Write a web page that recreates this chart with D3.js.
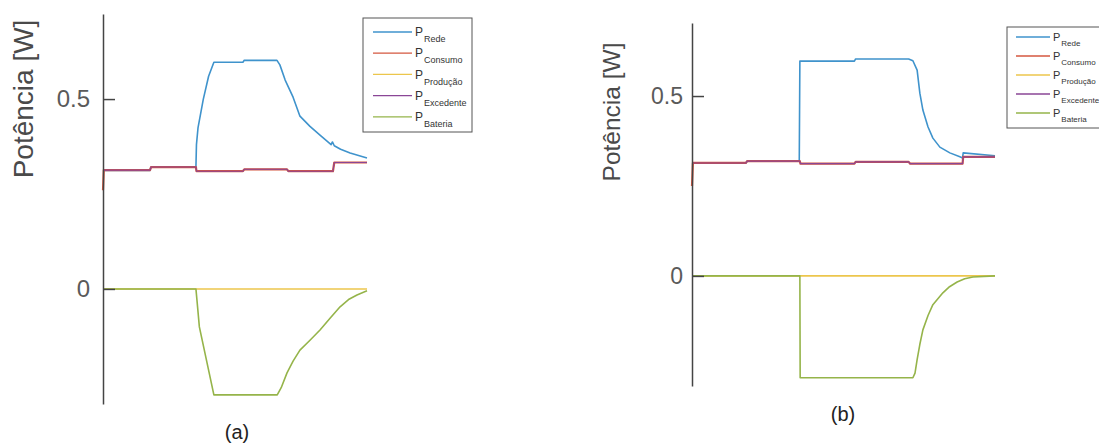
<!DOCTYPE html>
<html>
<head>
<meta charset="utf-8">
<script src="https://cdn.jsdelivr.net/npm/d3@7"></script>
<style>
  body { margin: 0; background: #fff; }
  text { font-family: "Liberation Sans", Arial, sans-serif; }
</style>
</head>
<body>
<div class="chart"></div>
<script>
// series names and colours (legend order = draw order)
var names = ["Rede", "Consumo", "Produção", "Excedente", "Bateria"];
var colors = ["#3f93cc", "#d4573f", "#ecc64c", "#8a4696", "#95b44a"];
var widths = [1.6, 2.2, 1.6, 1.1, 1.6];
var yTicks = [0, 0.5];
var tickLabels = ["0", "0.5"];

// (a) values, [t, P]
var redeA = [[0,0.312],[17.8,0.312],[18.2,0.321],[35.2,0.321],[35.4,0.38],[36,0.425],[38,0.5],[40,0.56],[42,0.597],
  [53,0.597],[53.5,0.602],[65.9,0.602],[67,0.59],[69,0.55],[72,0.505],[74.6,0.455],[78.4,0.428],[82.2,0.405],
  [86.4,0.38],[86.9,0.387],[87.6,0.377],[90,0.368],[93.6,0.358],[100,0.345]];
var consumoA = [[0,0.26],[0.3,0.313],[17.8,0.313],[18.2,0.321],[35.2,0.321],[35.4,0.31],[53,0.31],[53.5,0.315],
  [69.7,0.315],[70.2,0.31],[87.1,0.31],[87.6,0.333],[100,0.333]];
var producaoA = [[0,0],[100,0]];
var excedenteA = [[0,0.313],[17.8,0.313],[18.2,0.321],[35.2,0.321],[35.4,0.31],[53,0.31],[53.5,0.315],
  [69.7,0.315],[70.2,0.31],[87.1,0.31],[87.6,0.333],[100,0.333]];
var bateriaA = [[0,0],[35.2,0],[35.6,-0.03],[36.5,-0.1],[42,-0.279],[66,-0.279],[67.5,-0.26],[69.7,-0.221],
  [72,-0.19],[74.6,-0.161],[78.4,-0.135],[82.2,-0.108],[86,-0.077],[89.8,-0.047],[93,-0.028],[96.2,-0.016],[100,-0.005]];

// (b)
var redeB = [[0,0.314],[17.8,0.314],[18.2,0.319],[35.4,0.319],[35.6,0.597],[53.6,0.597],[54,0.603],[71.5,0.603],
  [72.9,0.598],[74.3,0.572],[75.2,0.508],[76.2,0.461],[77.9,0.414],[79.5,0.383],[81.8,0.358],[85.1,0.342],
  [88.4,0.331],[89.3,0.328],[89.5,0.342],[100,0.334]];
var consumoB = [[0,0.25],[0.3,0.314],[17.8,0.314],[18.2,0.319],[35.6,0.319],[35.8,0.312],[53.6,0.312],[54,0.317],
  [71.5,0.317],[72,0.312],[89.3,0.312],[89.5,0.331],[100,0.331]];
var producaoB = [[0,0],[100,0]];
var excedenteB = [[0,0.314],[17.8,0.314],[18.2,0.319],[35.6,0.319],[35.8,0.312],[53.6,0.312],[54,0.317],
  [71.5,0.317],[72,0.312],[89.3,0.312],[89.5,0.331],[100,0.331]];
var bateriaB = [[0,0],[35.6,0],[35.7,-0.283],[72.9,-0.283],[73.6,-0.27],[74.3,-0.233],[75.2,-0.19],[76.2,-0.15],
  [77.9,-0.11],[79.5,-0.08],[82.8,-0.047],[85,-0.03],[87.5,-0.017],[90,-0.008],[92.7,-0.003],[100,0]];

var panels = [
  { series: [redeA, consumoA, producaoA, excedenteA, bateriaA], caption: "(a)",
    left: 103, right: 367, top: 14, bottom: 404, yMin: -0.303, yMax: 0.724,
    pad: 13, tickFont: 24, labelFont: 28, labelX: 33, labelY: 99, capX: 237, capY: 439,
    legend: { x: 363, y: 18, w: 109, h: 114, row0: 32, rowH: 21.2, l0: 373, l1: 412, pFont: 12, subFont: 9 } },
  { series: [redeB, consumoB, producaoB, excedenteB, bateriaB], caption: "(b)",
    left: 692, right: 995, top: 23, bottom: 386, yMin: -0.306, yMax: 0.703,
    pad: 9, tickFont: 23, labelFont: 24.5, labelX: 620, labelY: 112, capX: 843, capY: 421,
    legend: { x: 1007, y: 27, w: 110, h: 101, row0: 37, rowH: 19, l0: 1016, l1: 1050, pFont: 11, subFont: 8 } }
];

var svg = d3.select(".chart").append("svg")
  .attr("width", 1099)
  .attr("height", 445);

panels.forEach(function(p) {
  var x = d3.scaleLinear().domain([0, 100]).range([p.left, p.right]);
  var y = d3.scaleLinear().domain([p.yMin, p.yMax]).range([p.bottom, p.top]);

  var line = d3.line()
    .x(function(d) { return x(d[0]); })
    .y(function(d) { return y(d[1]); });

  var g = svg.append("g");

  // lines first, axis on top like MATLAB
  p.series.forEach(function(s, i) {
    g.append("path")
      .attr("d", line(s))
      .style("fill", "none")
      .style("stroke", colors[i])
      .style("stroke-width", widths[i])
      .style("stroke-linejoin", "round");
  });

  var yAxis = d3.axisLeft(y)
    .tickValues(yTicks)
    .tickFormat(function(d, i) { return tickLabels[i]; })
    .tickSizeInner(-12)
    .tickSizeOuter(0)
    .tickPadding(p.pad);

  var gY = g.append("g")
    .attr("transform", "translate(" + p.left + ",0)")
    .call(yAxis);
  gY.select(".domain").attr("stroke", "#444").attr("stroke-width", 1.5);
  gY.selectAll(".tick line").attr("stroke", "#444").attr("stroke-width", 1.5);
  gY.selectAll(".tick text")
    .attr("fill", "#5a5a5a")
    .style("font-size", p.tickFont + "px")
    .style("font-family", "'Liberation Sans', Arial, sans-serif");

  g.append("text")
    .attr("transform", "translate(" + p.labelX + "," + p.labelY + ") rotate(-90)")
    .attr("text-anchor", "middle")
    .attr("fill", "#4a4a4a")
    .style("font-size", p.labelFont + "px")
    .text("Potência [W]");

  g.append("text")
    .attr("x", p.capX)
    .attr("y", p.capY)
    .attr("text-anchor", "middle")
    .attr("fill", "#222")
    .style("font-size", "20px")
    .text(p.caption);

  // legend box
  var L = p.legend;
  g.append("rect")
    .attr("x", L.x).attr("y", L.y)
    .attr("width", L.w).attr("height", L.h)
    .attr("fill", "#fff")
    .attr("stroke", "#555")
    .attr("stroke-width", 1);

  names.forEach(function(n, i) {
    var ry = L.row0 + i * L.rowH;
    g.append("line")
      .attr("x1", L.l0).attr("x2", L.l1)
      .attr("y1", ry).attr("y2", ry)
      .attr("stroke", colors[i])
      .attr("stroke-width", 1.3);
    var t = g.append("text")
      .attr("x", L.l1 + 3)
      .attr("y", ry + L.pFont * 0.35)
      .attr("fill", "#333")
      .style("font-size", L.pFont + "px");
    t.append("tspan").text("P");
    t.append("tspan")
      .attr("dy", L.pFont * 0.5)
      .attr("dx", 1)
      .style("font-size", L.subFont + "px")
      .text(n);
  });
});
</script>
</body>
</html>
